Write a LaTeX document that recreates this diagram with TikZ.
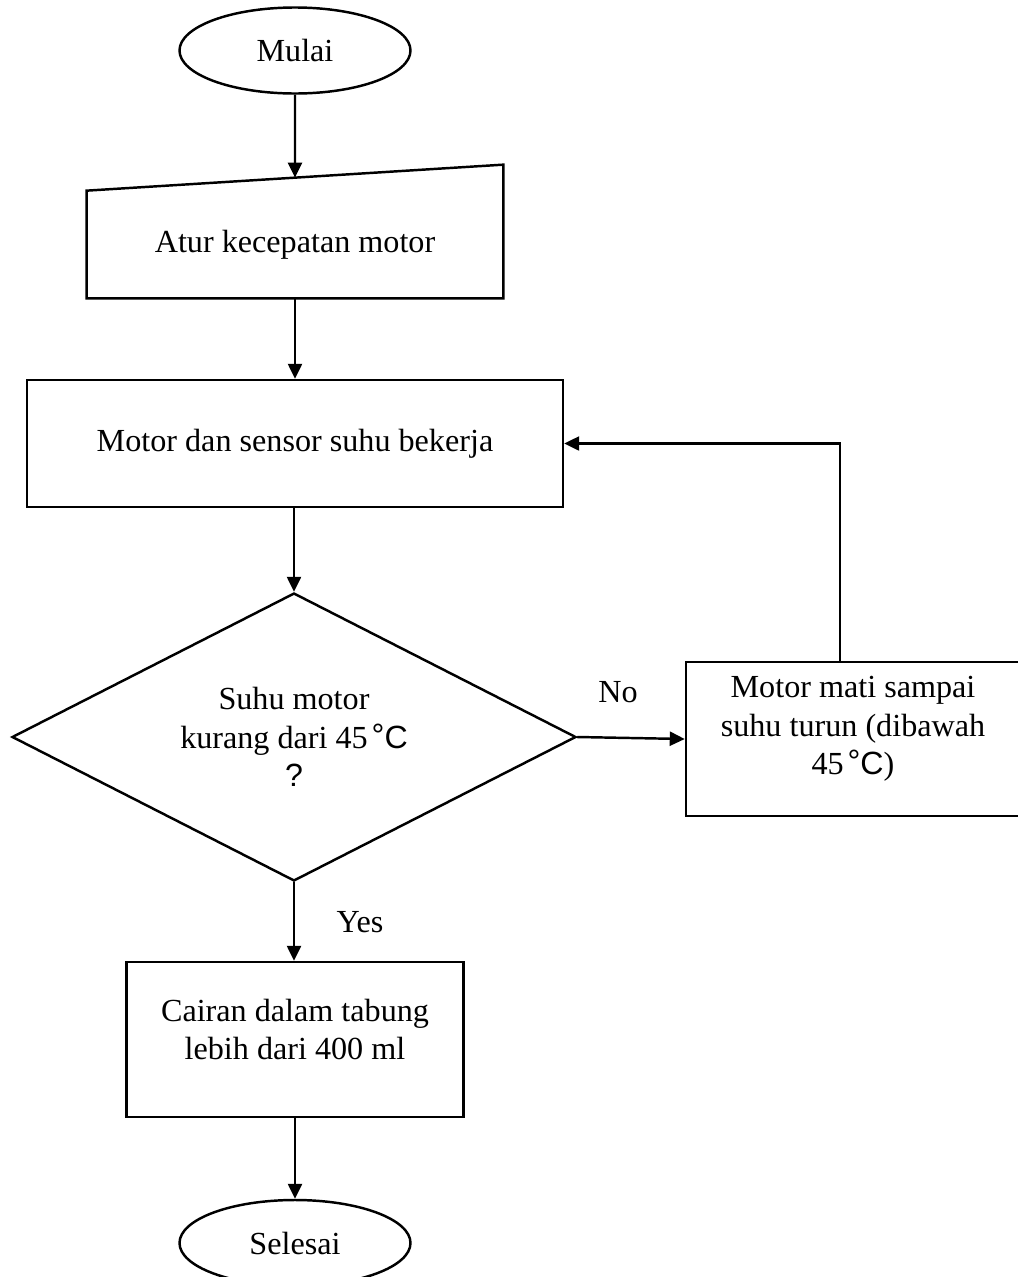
\documentclass[tikz,border=0pt]{standalone}
\usepackage{fontspec}
\setmainfont{Liberation Serif}
\newfontfamily\arialfont{Liberation Sans}
\usetikzlibrary{arrows.meta,positioning,shapes.geometric,calc}
\tikzset{
  termnode/.style={ellipse,draw,line width=1.4pt,minimum width=4.62cm,minimum height=1.72cm,inner sep=0pt},
  inputnode/.style={rectangle,minimum width=8.32cm,minimum height=2.14cm,inner sep=0pt},
  procnode/.style={rectangle,draw,line width=1.4pt,inner sep=0pt},
  decnode/.style={diamond,draw,line width=1.4pt,aspect=1.96,minimum width=11.28cm,minimum height=5.76cm,inner sep=0pt,align=center},
  txtnode/.style={align=center,inner sep=0pt},
  flowarrow/.style={-{Triangle[length=3mm,width=2.8mm]},line width=1.4pt}
}
\newcommand{\degC}{{\arialfont\hspace{0.12em}\raisebox{0.05em}{°}C}}

\begin{document}
\begin{tikzpicture}[font=\fontsize{18.3}{21.8}\selectfont]
  \useasboundingbox (0,0) rectangle (20.36,-25.54);
  \clip (0,0) rectangle (20.36,-25.54);
  \node[termnode] (mulai) at (5.9,-1.01) {Mulai};
  \node[inputnode] (atur) at (5.9,-4.89) {Atur kecepatan motor};
  \draw[line width=1.4pt] (atur.south west) -- (atur.north west)
    -- ([yshift=5.2mm]atur.north east) -- (atur.south east) -- cycle;
  \coordinate (aturtop) at ($(atur.north west)!0.5!(atur.north east)+(0,0.26)$);
  \node[procnode,minimum width=10.72cm,minimum height=2.54cm] (motor) at (5.9,-8.87) {Motor dan sensor suhu bekerja};
  \node[decnode] (cek) at (5.88,-14.74) {Suhu motor\\ kurang dari 45\degC\\ {\arialfont ?}};
  \node[procnode,minimum width=6.68cm,minimum height=3.08cm] (mati) at (17.06,-14.78) {};
  \node[txtnode] (matitxt) at ([yshift=2mm]mati.center) {Motor mati sampai\\ suhu turun (dibawah\\ 45\degC)};
  \node[procnode,minimum width=6.74cm,minimum height=3.1cm] (cairan) at (5.9,-20.79) {};
  \node[txtnode] (cairantxt) at ([yshift=2mm]cairan.center) {Cairan dalam tabung\\ lebih dari 400 ml};
  \node[termnode] (selesai) at (5.9,-24.86) {Selesai};
  \node (nolbl) at (12.36,-13.84) {No};
  \node (yeslbl) at (7.2,-18.44) {Yes};
  \draw[flowarrow] (mulai.south) -- (aturtop);
  \draw[flowarrow] (atur.south) -- (motor.north);
  \draw[flowarrow] (motor.south -| cek.north) -- (cek.north);
  \draw[flowarrow] (cek.east) -- (mati.west);
  \draw[flowarrow] ([xshift=-2.6mm]mati.north) |- (motor.east);
  \draw[flowarrow] (cek.south) -- (cek.south |- cairan.north);
  \draw[flowarrow] (cairan.south) -- (selesai.north);
\end{tikzpicture}
\end{document}
